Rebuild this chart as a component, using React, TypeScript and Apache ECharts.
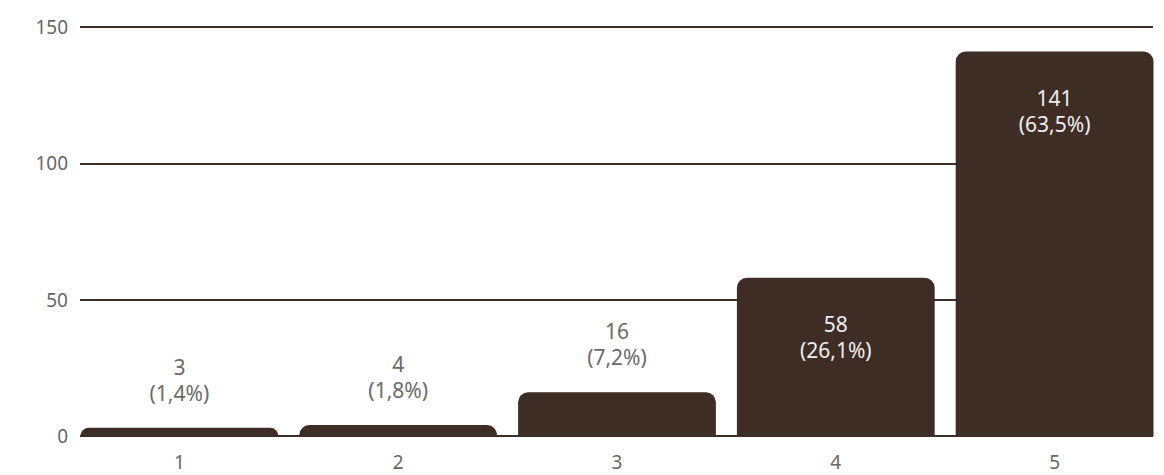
import React, { useEffect, useRef } from "react";
import * as echarts from "echarts";

const categories = ["1", "2", "3", "4", "5"];
const counts = [3, 4, 16, 58, 141];
const percents = ["1,4%", "1,8%", "7,2%", "26,1%", "63,5%"];
const insideFrom = 50; // bars taller than this show their label inside
const yTicks = { min: 0, max: 150, interval: 50 };

const BAR = "#3e2d25";
const FONT = "'Noto Sans', 'Open Sans', sans-serif";

export default function App() {
  const ref = useRef<HTMLDivElement>(null);
  useEffect(() => {
    document.body.style.margin = "0";
    const chart = echarts.init(ref.current!, undefined, { renderer: "svg" });
    chart.setOption({
      animation: false,
      grid: [
        { left: 80, right: 11, top: 27, bottom: 39 },
        { left: 70, right: 0, top: 27, bottom: 39 },
      ],
      xAxis: [
        { type: "category", gridIndex: 0, data: categories, show: false },
        {
          type: "category",
          gridIndex: 1,
          data: categories,
          axisLine: { show: false },
          axisTick: { show: false },
          axisLabel: { color: "#666", fontSize: 19, fontFamily: FONT, margin: 16 },
        },
      ],
      yAxis: [
        {
          type: "value",
          gridIndex: 0,
          ...yTicks,
          axisLine: { show: false },
          axisTick: { show: false },
          axisLabel: { color: "#666", fontSize: 19, fontFamily: FONT, margin: 12 },
          splitLine: { show: true, lineStyle: { color: BAR, width: 2 } },
        },
        {
          type: "value",
          gridIndex: 1,
          ...yTicks,
          show: false,
          splitLine: { show: false },
        },
      ],
      series: [
        {
          type: "bar",
          xAxisIndex: 1,
          yAxisIndex: 1,
          barCategoryGap: "9.6%",
          itemStyle: { color: BAR, borderRadius: [10, 10, 0, 0] },
          data: counts.map((v, i) => {
            const inside = v > insideFrom;
            return {
              value: v,
              label: {
                show: true,
                position: inside ? "insideTop" : "top",
                distance: inside ? 33 : 22,
                color: inside ? "#eeeeee" : "#6a6a6a",
                fontSize: 21,
                lineHeight: 26,
                fontFamily: FONT,
                formatter: () => `${v}\n(${percents[i]})`,
              },
            };
          }),
        },
      ],
    });
    return () => chart.dispose();
  }, []);
  return <div ref={ref} style={{ width: 1164, height: 475 }} />;
}
